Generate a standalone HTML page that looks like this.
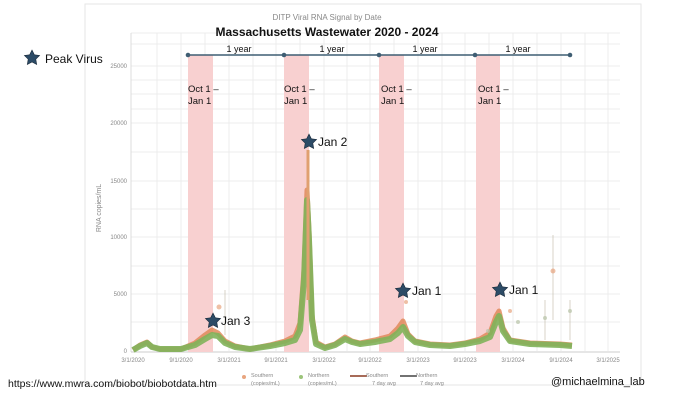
<!DOCTYPE html>
<html><head><meta charset="utf-8"><style>
html,body{margin:0;padding:0;background:#fff;width:676px;height:401px;overflow:hidden}
svg{display:block;font-family:"Liberation Sans",sans-serif}
</style></head><body>
<svg width="676" height="401" viewBox="0 0 676 401">
<rect x="85" y="4" width="556" height="381" fill="#fff" stroke="#e6e6e6"/>
<g stroke="#ececec" stroke-width="1">
<line x1="131" y1="66" x2="620" y2="66"/><line x1="131" y1="80" x2="620" y2="80"/><line x1="131" y1="94" x2="620" y2="94"/><line x1="131" y1="109" x2="620" y2="109"/>
<line x1="131" y1="123" x2="620" y2="123"/><line x1="131" y1="152" x2="620" y2="152"/><line x1="131" y1="181" x2="620" y2="181"/><line x1="131" y1="209" x2="620" y2="209"/>
<line x1="131" y1="237" x2="620" y2="237"/><line x1="131" y1="266" x2="620" y2="266"/><line x1="131" y1="294" x2="620" y2="294"/><line x1="131" y1="322" x2="620" y2="322"/>
<line x1="131" y1="33" x2="620" y2="33"/><line x1="131" y1="44" x2="620" y2="44"/>
<line x1="157" y1="33" x2="157" y2="351"/><line x1="181" y1="33" x2="181" y2="351"/><line x1="205" y1="33" x2="205" y2="351"/><line x1="229" y1="33" x2="229" y2="351"/>
<line x1="253" y1="33" x2="253" y2="351"/><line x1="276" y1="33" x2="276" y2="351"/><line x1="300" y1="33" x2="300" y2="351"/><line x1="324" y1="33" x2="324" y2="351"/>
<line x1="347" y1="33" x2="347" y2="351"/><line x1="370" y1="33" x2="370" y2="351"/><line x1="394" y1="33" x2="394" y2="351"/><line x1="418" y1="33" x2="418" y2="351"/>
<line x1="442" y1="33" x2="442" y2="351"/><line x1="465" y1="33" x2="465" y2="351"/><line x1="489" y1="33" x2="489" y2="351"/><line x1="513" y1="33" x2="513" y2="351"/>
<line x1="537" y1="33" x2="537" y2="351"/><line x1="561" y1="33" x2="561" y2="351"/><line x1="585" y1="33" x2="585" y2="351"/><line x1="608" y1="33" x2="608" y2="351"/>
</g>
<line x1="131" y1="33" x2="131" y2="352" stroke="#ddd"/>
<line x1="131" y1="352" x2="620" y2="352" stroke="#ccc"/>
<g fill="#f8d0d0">
<rect x="188" y="55" width="25" height="297"/><rect x="284" y="55" width="25" height="297"/>
<rect x="379" y="55" width="25" height="297"/><rect x="476" y="55" width="24" height="297"/>
</g>
<g font-size="6" fill="#888" text-anchor="end">
<text x="127" y="68">25000</text><text x="127" y="125">20000</text><text x="127" y="183">15000</text>
<text x="127" y="239">10000</text><text x="127" y="296">5000</text><text x="127" y="353">0</text>
</g>
<text x="101" y="208" font-size="7" fill="#888" transform="rotate(-90 101 208)" text-anchor="middle">RNA copies/mL</text>
<g font-size="6" fill="#888" text-anchor="middle">
<text x="133" y="362">3/1/2020</text><text x="181" y="362">9/1/2020</text><text x="229" y="362">3/1/2021</text>
<text x="276" y="362">9/1/2021</text><text x="324" y="362">3/1/2022</text><text x="370" y="362">9/1/2022</text>
<text x="418" y="362">3/1/2023</text><text x="465" y="362">9/1/2023</text><text x="513" y="362">3/1/2024</text>
<text x="561" y="362">9/1/2024</text><text x="608" y="362">3/1/2025</text>
</g>
<polyline fill="none" stroke="#e0895a" stroke-width="5" stroke-linejoin="round" opacity="0.85" points="133,350 140,345 147,342 152,347 160,349 181,349 195,343 205,335 212,330 218,333 225,341 235,346 250,349 270,345 285,341 295,336 300,323 304,270 307,190 309,230 312,315 316,342 325,347 335,344 345,337 352,341 360,343 375,340 390,336 398,328 403,321 408,334 415,341 430,344 450,345 465,343 480,339 490,333 496,316 499,311 503,328 510,340 530,343 560,344 572,345"/>
<polyline fill="none" stroke="#7fb35a" stroke-width="6" stroke-linejoin="round" opacity="0.9" points="133,350 140,346 147,343 152,347 160,349 181,349 195,345 205,339 212,335 218,336 225,343 235,347 250,349 270,346 285,343 295,340 300,330 304,280 307,200 309,240 312,320 316,344 325,348 335,345 345,339 352,342 360,344 375,342 390,339 398,333 403,327 408,336 415,342 430,345 450,346 465,344 480,341 490,337 496,322 499,316 503,331 510,341 530,344 560,345 572,346"/>
<line x1="308" y1="150" x2="308" y2="300" stroke="#e0a070" stroke-width="3"/>
<g stroke="#c8c0b0" stroke-width="0.7"><line x1="225" y1="290" x2="225" y2="335"/><line x1="545" y1="300" x2="545" y2="340"/><line x1="553" y1="235" x2="553" y2="320"/><line x1="570" y1="300" x2="570" y2="340"/></g>
<g fill="#e8a57f" opacity="0.7"><circle cx="219" cy="307" r="2.5"/><circle cx="406" cy="302" r="2"/><circle cx="553" cy="271" r="2.5"/><circle cx="510" cy="311" r="2"/></g>
<g fill="#b8c4a8" opacity="0.7"><circle cx="545" cy="318" r="2"/><circle cx="570" cy="311" r="2"/><circle cx="518" cy="322" r="2"/><circle cx="488" cy="331" r="2"/></g>
<line x1="188" y1="55" x2="570" y2="55" stroke="#3f5e73" stroke-width="1.5"/>
<g fill="#3f5e73"><circle cx="188" cy="55" r="2.3"/><circle cx="284" cy="55" r="2.3"/><circle cx="379" cy="55" r="2.3"/><circle cx="475" cy="55" r="2.3"/><circle cx="570" cy="55" r="2.3"/></g>
<g font-size="9" fill="#111" text-anchor="middle">
<text x="239" y="52">1 year</text><text x="332" y="52">1 year</text><text x="425" y="52">1 year</text><text x="518" y="52">1 year</text>
</g>
<g font-size="9.5" fill="#111">
<text x="188" y="92">Oct 1 –</text><text x="188" y="104">Jan 1</text>
<text x="284" y="92">Oct 1 –</text><text x="284" y="104">Jan 1</text>
<text x="381" y="92">Oct 1 –</text><text x="381" y="104">Jan 1</text>
<text x="478" y="92">Oct 1 –</text><text x="478" y="104">Jan 1</text>
</g>
<text x="327" y="20" font-size="8" fill="#888" text-anchor="middle">DITP Viral RNA Signal by Date</text>
<text x="327" y="36" font-size="12" font-weight="bold" fill="#111" text-anchor="middle">Massachusetts Wastewater 2020 - 2024</text>
<defs><path id="st" d="M0,-8 L2.35,-3.2 L7.6,-2.5 L3.8,1.2 L4.7,6.5 L0,4 L-4.7,6.5 L-3.8,1.2 L-7.6,-2.5 L-2.35,-3.2Z" fill="#2c4b66" stroke="#1a2a3a" stroke-width="0.6"/></defs>
<use href="#st" x="32" y="58"/><text x="45" y="63" font-size="12" fill="#111">Peak Virus</text>
<use href="#st" x="213" y="321"/><text x="221" y="325" font-size="12" fill="#111">Jan 3</text>
<use href="#st" x="309" y="142"/><text x="318" y="146" font-size="12" fill="#111">Jan 2</text>
<use href="#st" x="403" y="291"/><text x="412" y="295" font-size="12" fill="#111">Jan 1</text>
<use href="#st" x="500" y="290"/><text x="509" y="294" font-size="12" fill="#111">Jan 1</text>
<g font-size="5.5" fill="#888">
<circle cx="244" cy="377" r="2" fill="#e8a57f"/><text x="251" y="377">Southern</text><text x="251" y="385">(copies/mL)</text>
<circle cx="301" cy="377" r="2" fill="#9cc47a"/><text x="308" y="377">Northern</text><text x="308" y="385">(copies/mL)</text>
<line x1="350" y1="376" x2="367" y2="376" stroke="#8a3a20" stroke-width="1.5"/><text x="366" y="377">Southern</text><text x="372" y="385">7 day avg</text>
<line x1="400" y1="376" x2="417" y2="376" stroke="#444" stroke-width="1.5"/><text x="416" y="377">Northern</text><text x="420" y="385">7 day avg</text>
</g>
<text x="8" y="387" font-size="10.5" fill="#111">https://www.mwra.com/biobot/biobotdata.htm</text>
<text x="551" y="385" font-size="11" fill="#111">@michaelmina_lab</text>
</svg>
</body></html>
